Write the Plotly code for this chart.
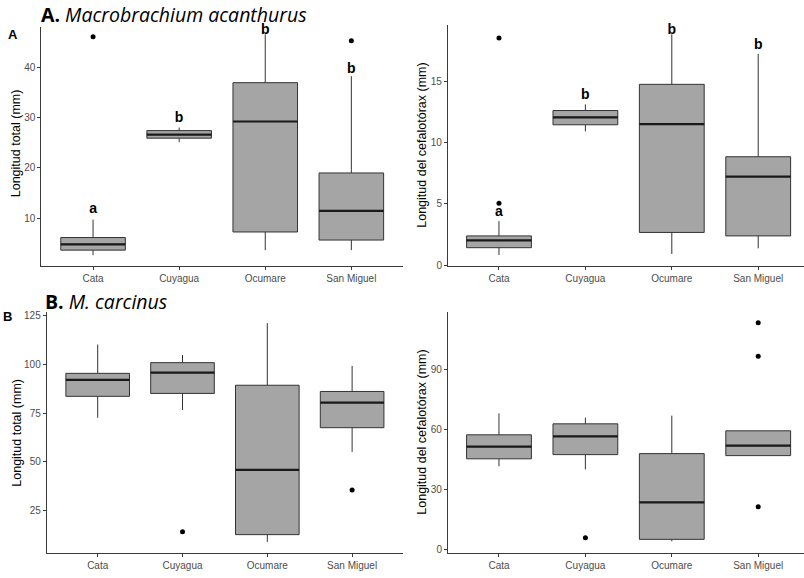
import plotly.graph_objects as go

W, H = 804, 578

categories = ["Cata", "Cuyagua", "Ocumare", "San Miguel"]
pos = [0, 1, 2, 3]

# A. Macrobrachium acanthurus - Longitud total
a_lt_q1 = [3.7, 25.9, 7.3, 5.7]
a_lt_med = [4.85, 26.6, 29.2, 11.5]
a_lt_q3 = [6.2, 27.4, 36.9, 19.0]
a_lt_lo = [2.7, 25.1, 3.7, 3.7]
a_lt_hi = [9.75, 28.0, 46.5, 38.2]
a_lt_out_x = [0, 3]
a_lt_out_y = [46.0, 45.2]
a_lt_letters = ["a", "b", "b", "b"]
a_lt_letter_y = [11.7, 29.7, 47.2, 39.6]

# A. Macrobrachium acanthurus - Longitud del cefalotórax
a_lc_q1 = [1.44, 11.44, 2.68, 2.4]
a_lc_med = [2.03, 12.05, 11.49, 7.23]
a_lc_q3 = [2.4, 12.6, 14.73, 8.84]
a_lc_lo = [0.85, 10.9, 0.93, 1.39]
a_lc_hi = [3.6, 13.1, 18.8, 17.2]
a_lc_out_x = [0, 0]
a_lc_out_y = [18.5, 5.05]
a_lc_letters = ["a", "b", "b", "b"]
a_lc_letter_y = [4.3, 13.85, 19.1, 17.9]

# B. M. carcinus - Longitud total
b_lt_q1 = [83.6, 85.1, 12.6, 67.5]
b_lt_med = [92.1, 95.8, 45.8, 80.4]
b_lt_q3 = [95.4, 100.9, 89.3, 86.1]
b_lt_lo = [72.6, 76.6, 8.9, 55.1]
b_lt_hi = [110.2, 104.8, 121.2, 99.2]
b_lt_out_x = [1, 3]
b_lt_out_y = [14.1, 35.5]

# B. M. carcinus - Longitud del cefalotórax
b_lc_q1 = [45.3, 47.4, 5.0, 46.9]
b_lc_med = [51.4, 56.5, 23.5, 51.9]
b_lc_q3 = [57.3, 62.8, 47.9, 59.3]
b_lc_lo = [41.6, 40.0, 4.0, 46.9]
b_lc_hi = [68.0, 65.9, 66.9, 59.3]
b_lc_out_x = [1, 3, 3, 3]
b_lc_out_y = [5.8, 113.4, 96.6, 21.3]

y_ticks_a_lt = [10, 20, 30, 40]
y_ticks_a_lc = [0, 5, 10, 15]
y_ticks_b_lt = [25, 50, 75, 100, 125]
y_ticks_b_lc = [0, 30, 60, 90]

BOXW = 0.75
FILL = "#a5a5a5"
EDGE = "#333333"
AXC = "#3a3a3a"
TICKC = "#4d4d4d"
FONT = "Liberation Sans, Arial, sans-serif"

fig = go.Figure()

panels = [
    dict(ax="", q1=a_lt_q1, med=a_lt_med, q3=a_lt_q3, lo=a_lt_lo, hi=a_lt_hi,
         ox=a_lt_out_x, oy=a_lt_out_y, letters=a_lt_letters, ly=a_lt_letter_y),
    dict(ax="2", q1=a_lc_q1, med=a_lc_med, q3=a_lc_q3, lo=a_lc_lo, hi=a_lc_hi,
         ox=a_lc_out_x, oy=a_lc_out_y, letters=a_lc_letters, ly=a_lc_letter_y),
    dict(ax="3", q1=b_lt_q1, med=b_lt_med, q3=b_lt_q3, lo=b_lt_lo, hi=b_lt_hi,
         ox=b_lt_out_x, oy=b_lt_out_y, letters=None, ly=None),
    dict(ax="4", q1=b_lc_q1, med=b_lc_med, q3=b_lc_q3, lo=b_lc_lo, hi=b_lc_hi,
         ox=b_lc_out_x, oy=b_lc_out_y, letters=None, ly=None),
]

for p in panels:
    xa = "x" + p["ax"]
    ya = "y" + p["ax"]
    fig.add_trace(go.Box(
        x=pos, q1=p["q1"], median=p["med"], q3=p["q3"],
        lowerfence=p["lo"], upperfence=p["hi"],
        width=BOXW, whiskerwidth=0, boxpoints=False,
        fillcolor=FILL, line=dict(color=EDGE, width=1),
        xaxis=xa, yaxis=ya, showlegend=False, hoverinfo="skip",
    ))
    mx, my = [], []
    for xi, m in zip(pos, p["med"]):
        mx += [xi - BOXW / 2, xi + BOXW / 2, None]
        my += [m, m, None]
    fig.add_trace(go.Scatter(
        x=mx, y=my, mode="lines", line=dict(color="#1a1a1a", width=2.2),
        xaxis=xa, yaxis=ya, showlegend=False, hoverinfo="skip",
    ))
    fig.add_trace(go.Scatter(
        x=p["ox"], y=p["oy"], mode="markers",
        marker=dict(color="black", size=5),
        xaxis=xa, yaxis=ya, showlegend=False, hoverinfo="skip",
    ))
    if p["letters"]:
        fig.add_trace(go.Scatter(
            x=pos, y=p["ly"], mode="text", text=["<b>%s</b>" % t for t in p["letters"]],
            textposition="middle center",
            textfont=dict(family=FONT, size=14, color="black"),
            xaxis=xa, yaxis=ya, showlegend=False, hoverinfo="skip", cliponaxis=False,
        ))


def px_dom_x(a, b):
    return [a / W, b / W]


def px_dom_y(top, bottom):
    return [1 - bottom / H, 1 - top / H]


def xaxis(dom, rng, anchor):
    return dict(domain=dom, range=rng, anchor=anchor, tickvals=pos, ticktext=categories,
                showline=True, linecolor=AXC, linewidth=1.1, ticks="outside",
                ticklen=3, tickcolor=AXC, showgrid=False, zeroline=False,
                tickfont=dict(family=FONT, size=10, color=TICKC), fixedrange=True)


def yaxis(dom, rng, ticks, anchor):
    return dict(domain=dom, range=rng, anchor=anchor, tickvals=ticks,
                showline=True, linecolor=AXC, linewidth=1.1, ticks="outside",
                ticklen=3, tickcolor=AXC, showgrid=False, zeroline=False,
                tickfont=dict(family=FONT, size=10, color=TICKC), fixedrange=True)


fig.update_layout(
    width=W, height=H,
    margin=dict(l=0, r=0, t=0, b=0),
    paper_bgcolor="white", plot_bgcolor="white",
    xaxis=xaxis(px_dom_x(41.4, 403), [-0.6, 3.6], "y"),
    yaxis=yaxis(px_dom_y(25, 267), [0.6, 48.0], y_ticks_a_lt, "x"),
    xaxis2=xaxis(px_dom_x(448, 804), [-0.59, 3.53], "y2"),
    yaxis2=yaxis(px_dom_y(23, 267), [-0.03, 19.58], y_ticks_a_lc, "x2"),
    xaxis3=xaxis(px_dom_x(46.8, 403), [-0.6, 3.6], "y3"),
    yaxis3=yaxis(px_dom_y(314, 557.3), [3.4, 126.8], y_ticks_b_lt, "x3"),
    xaxis4=xaxis(px_dom_x(448, 804), [-0.59, 3.53], "y4"),
    yaxis4=yaxis(px_dom_y(313.3, 557.3), [-1.6, 119.0], y_ticks_b_lc, "x4"),
    showlegend=False,
)

ann = []
# Y axis titles
for txt, xp, yp in [
    ("Longitud total (mm)", 16, 143),
    ("Longitud del cefalotórax (mm)", 422, 145.5),
    ("Longitud total (mm)", 17, 436),
    ("Longitud del cefalotórax (mm)", 422, 436),
]:
    ann.append(dict(text=txt, x=xp / W, y=1 - yp / H, xref="paper", yref="paper",
                    xanchor="center", yanchor="middle", textangle=-90, showarrow=False,
                    font=dict(family=FONT, size=12.5, color="black")))

# Section titles
ann.append(dict(text="<b>A.</b> <i>Macrobrachium acanthurus</i>", x=39 / W, y=1 - 13 / H,
                xref="paper", yref="paper", xanchor="left", yanchor="middle", showarrow=False,
                font=dict(family="Open Sans", size=19.5, color="black")))
ann.append(dict(text="<b>B.</b> <i>M. carcinus</i>", x=43 / W, y=1 - 303 / H,
                xref="paper", yref="paper", xanchor="left", yanchor="middle", showarrow=False,
                font=dict(family="Open Sans", size=19.5, color="black")))
# Panel tags
ann.append(dict(text="<b>A</b>", x=12.8 / W, y=1 - 32.8 / H, xref="paper", yref="paper",
                xanchor="center", yanchor="middle", showarrow=False,
                font=dict(family=FONT, size=13, color="black")))
ann.append(dict(text="<b>B</b>", x=7 / W, y=1 - 318.7 / H, xref="paper", yref="paper",
                xanchor="center", yanchor="middle", showarrow=False,
                font=dict(family=FONT, size=13, color="black")))

fig.update_layout(annotations=ann)

fig.write_html(
    "out.html",
    config={"displayModeBar": False},
    post_script="document.body.style.margin='0';document.body.style.padding='0';"
                "document.body.style.overflow='hidden';",
)
